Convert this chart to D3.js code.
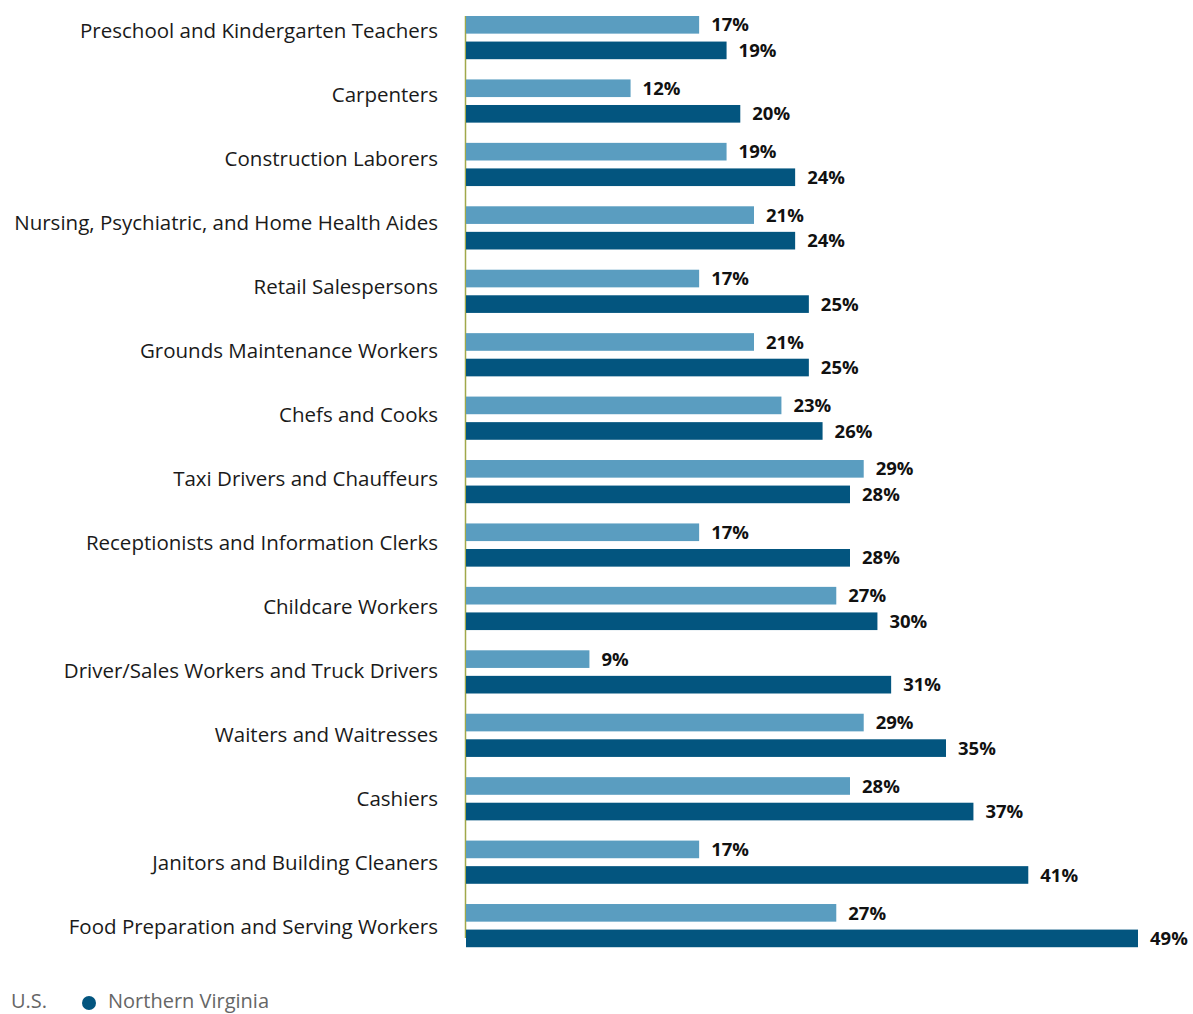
<!DOCTYPE html>
<html>
<head>
<meta charset="utf-8">
<script src="https://cdn.jsdelivr.net/npm/d3@7"></script>
<style>
  body { margin: 0; background: #fff; }
  svg { display: block; }
  .cat { font-family: "Open Sans", sans-serif; font-size: 20.5px; fill: #1a1a1a; }
  .val { font-family: "Open Sans", sans-serif; font-size: 18.5px; font-weight: bold; fill: #111; }
  .legend text { font-family: "Open Sans", sans-serif; font-size: 20px; fill: #666; }
</style>
</head>
<body>
<svg id="chart"></svg>
<script>
const categories = [
  'Preschool and Kindergarten Teachers',
  'Carpenters',
  'Construction Laborers',
  'Nursing, Psychiatric, and Home Health Aides',
  'Retail Salespersons',
  'Grounds Maintenance Workers',
  'Chefs and Cooks',
  'Taxi Drivers and Chauffeurs',
  'Receptionists and Information Clerks',
  'Childcare Workers',
  'Driver/Sales Workers and Truck Drivers',
  'Waiters and Waitresses',
  'Cashiers',
  'Janitors and Building Cleaners',
  'Food Preparation and Serving Workers'
];
const usValues = [17, 12, 19, 21, 17, 21, 23, 29, 17, 27, 9, 29, 28, 17, 27];
const novaValues = [19, 20, 24, 24, 25, 25, 26, 28, 28, 30, 31, 35, 37, 41, 49];
const seriesNames = ['U.S.', 'Northern Virginia'];
const seriesKeys = ['us', 'nova'];

const width = 1193, height = 1014;
const colors = { us: '#5a9dc0', nova: '#03557f' };

const svg = d3.select('#chart')
  .attr('width', width)
  .attr('height', height);

const rows = categories.map((c, i) => ({ cat: c, us: usValues[i], nova: novaValues[i] }));

const x = d3.scaleLinear()
  .domain([0, 49])
  .range([466, 1138]);

const y0 = d3.scaleBand()
  .domain(categories)
  .range([16, 16 + 63.43 * categories.length]);

const y1 = d3.scaleBand()
  .domain(seriesKeys)
  .range([0, 43.2])
  .paddingInner(0.31);

// labels sit on a slightly wider pitch than the bars
const yLabel = d3.scalePoint()
  .domain(categories)
  .range([31, 927]);

// axis line
svg.append('line')
  .attr('x1', 465.5).attr('x2', 465.5)
  .attr('y1', 16).attr('y2', 938)
  .attr('stroke', '#a0a84a')
  .attr('stroke-width', 1.5);

svg.selectAll('text.cat')
  .data(categories)
  .join('text')
  .attr('class', 'cat')
  .attr('x', 438)
  .attr('y', d => yLabel(d))
  .attr('dy', '0.36em')
  .attr('text-anchor', 'end')
  .text(d => d);

const groups = svg.selectAll('g.row')
  .data(rows)
  .join('g')
  .attr('class', 'row')
  .attr('transform', d => `translate(0,${y0(d.cat)})`);

seriesKeys.forEach(k => {
  groups.append('rect')
    .attr('x', x(0))
    .attr('y', y1(k))
    .attr('width', d => x(d[k]) - x(0))
    .attr('height', y1.bandwidth())
    .attr('fill', colors[k]);

  groups.append('text')
    .attr('class', 'val')
    .attr('x', d => x(d[k]) + 12)
    .attr('y', y1(k) + y1.bandwidth() / 2)
    .attr('dy', '0.36em')
    .text(d => d[k] + '%');
});

// legend
const legend = svg.append('g').attr('class', 'legend');
legend.append('text').attr('x', 11).attr('y', 1008).text(seriesNames[0]);
legend.append('circle').attr('cx', 89).attr('cy', 1003).attr('r', 7).attr('fill', colors.nova);
legend.append('text').attr('x', 108).attr('y', 1008).text(seriesNames[1]);
</script>
</body>
</html>
